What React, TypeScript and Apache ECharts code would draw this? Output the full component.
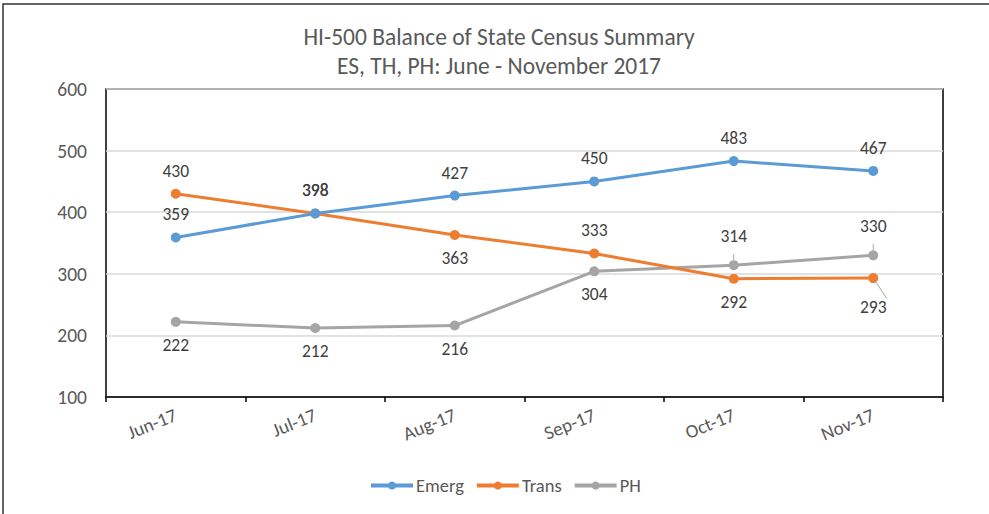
import React, { useEffect, useRef } from "react";
import * as echarts from "echarts";

const titleLines = ["HI-500 Balance of State Census Summary", "ES, TH, PH: June - November 2017"];
const categories = ["Jun-17", "Jul-17", "Aug-17", "Sep-17", "Oct-17", "Nov-17"];
const seriesNames = ["Emerg", "Trans", "PH"];
const emerg = [359, 398, 427, 450, 483, 467];
const trans = [430, 398, 363, 333, 292, 293];
const ph = [222, 212, 216, 304, 314, 330];
const colors = ["#5B9BD5", "#ED7D31", "#A5A5A5"];
const emergLabelPos = ["top", "top", "top", "top", "top", "top"];
const transLabelPos = ["top", "top", "bottom", "top", "bottom", "bottom"];
const phLabelPos = ["bottom", "bottom", "bottom", "bottom", "top", "top"];
// points whose labels sit a bit farther with a leader line: [seriesIndex, dataIndex]
const leaderPoints: [number, number][] = [[2, 4], [2, 5], [1, 5]];

const FONT = 'Carlito, "Liberation Sans", "DejaVu Sans", sans-serif';

export default function App() {
  const ref = useRef<HTMLDivElement>(null);
  useEffect(() => {
    if (!ref.current) return;
    const chart = echarts.init(ref.current, undefined, { renderer: "svg" });
    const allVals = [emerg, trans, ph];
    const allPos = [emergLabelPos, transLabelPos, phLabelPos];
    const series = seriesNames.map((name, si) => ({
      name,
      type: "line",
      data: allVals[si].map((v, di) => {
        const isLeader = leaderPoints.some(([s, d]) => s === si && d === di);
        return {
          value: v,
          label: { position: allPos[si][di], distance: isLeader ? 15 : 9 },
          labelLine: isLeader ? { show: true, lineStyle: { color: "#A5A5A5", width: 1 } } : undefined,
        };
      }),
      symbol: "circle",
      symbolSize: 10,
      lineStyle: { width: 3, color: colors[si] },
      itemStyle: { color: colors[si] },
      label: {
        show: true,
        color: "#404040",
        fontSize: 17.5,
        fontFamily: FONT,
      },
      z: 3 - si,
    }));
    chart.setOption({
      animation: false,
      textStyle: { fontFamily: FONT },
      color: colors,
      title: {
        text: titleLines.join("\n"),
        left: 494,
        textAlign: "center",
        top: 17,
        textStyle: { color: "#595959", fontSize: 23.5, fontWeight: "normal", lineHeight: 29, fontFamily: FONT },
      },
      graphic: [
        {
          type: "rect",
          shape: { x: 3, y: 4, width: 1100, height: 600 },
          style: { fill: "none", stroke: "#333", lineWidth: 1.5 },
          silent: true,
        },
      ],
      legend: {
        bottom: 14,
        left: 364,
        itemWidth: 42,
        itemHeight: 10,
        itemGap: 11,
        data: seriesNames,
        lineStyle: { width: 4 },
        textStyle: { color: "#595959", fontSize: 18.5, fontFamily: FONT, padding: [0, 0, 0, -2] },
      },
      grid: {
        left: 106,
        right: 46,
        top: 89,
        bottom: 117,
        show: true,
        borderColor: "#000",
        borderWidth: 1.5,
        containLabel: false,
      },
      xAxis: {
        type: "category",
        data: categories,
        boundaryGap: true,
        axisLine: { lineStyle: { color: "#000", width: 1.5 } },
        axisTick: { show: true, alignWithLabel: false, length: 5, lineStyle: { color: "#000", width: 1.5 } },
        axisLabel: { color: "#595959", fontSize: 19, rotate: 22, margin: 17, fontFamily: FONT },
      },
      yAxis: {
        type: "value",
        min: 100,
        max: 600,
        interval: 100,
        axisLine: { show: false },
        axisTick: { show: false },
        axisLabel: { color: "#595959", fontSize: 19.5, margin: 19, fontFamily: FONT },
        splitLine: { lineStyle: { color: "#D9D9D9", width: 1.5 } },
      },
      series,
    });
    return () => chart.dispose();
  }, []);
  return <div ref={ref} style={{ position: "fixed", left: 0, top: 0, width: 989, height: 514, background: "#fff" }} />;
}
